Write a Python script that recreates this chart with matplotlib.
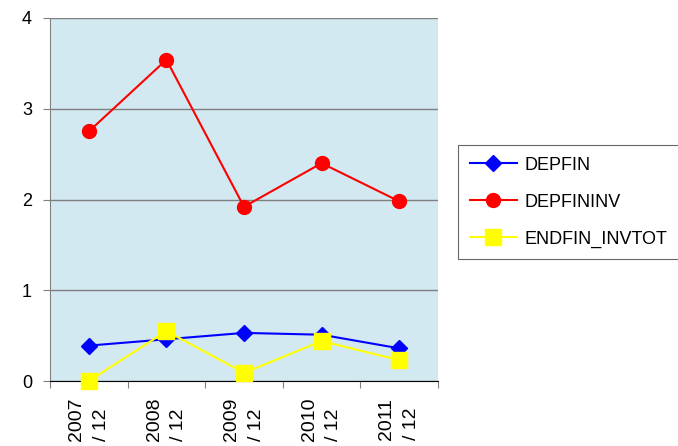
import matplotlib
matplotlib.use('Agg')
import matplotlib.pyplot as plt
import numpy as np

plt.rcParams['font.family'] = ['Liberation Sans', 'DejaVu Sans']

periods = ['2007\n/ 12', '2008\n/ 12', '2009\n/ 12', '2010\n/ 12', '2011\n/ 12']
depfin = [0.39, 0.46, 0.53, 0.51, 0.36]
depfininv = [2.75, 3.54, 1.92, 2.40, 1.98]
endfin_invtot = [0.00, 0.55, 0.09, 0.44, 0.23]

fig = plt.figure(figsize=(6.78, 4.46), dpi=100)
ax = fig.add_axes([50 / 678, 1 - 381 / 446, 388 / 678, 363 / 446])
ax.set_facecolor('#D3E9F1')

x = np.arange(len(periods))
ax.plot(x, depfin, color='#0000FF', marker='D', markersize=8, linewidth=1.5, label='DEPFIN', zorder=3)
ax.plot(x, depfininv, color='#FF0000', marker='o', markersize=10, linewidth=1.5, label='DEPFININV', zorder=3)
ax.plot(x, endfin_invtot, color='#FFFF00', marker='s', markersize=11, linewidth=1.5, label='ENDFIN_INVTOT', zorder=3, clip_on=False)

ax.set_xlim(-0.5, len(periods) - 0.5)
ax.set_ylim(0, 4)
ax.set_yticks([0, 1, 2, 3, 4])
ax.yaxis.grid(True, color='#808080', linewidth=1)
ax.set_axisbelow(True)

# category labels sit between the tick marks
ax.set_xticks(np.arange(len(periods) + 1) - 0.5)
ax.set_xticklabels([])
ax.set_xticks(x, minor=True)
ax.set_xticklabels(periods, minor=True, rotation=90, fontsize=14, ha='center', va='top',
                   multialignment='left', linespacing=1.6)
ax.tick_params(axis='x', which='minor', length=0, pad=12)
ax.tick_params(axis='x', which='major', length=5, color='#808080', direction='out')
ax.tick_params(axis='y', length=5, color='#808080', labelsize=13, pad=8)

for s in ['top', 'right']:
    ax.spines[s].set_visible(False)
ax.spines['left'].set_color('#808080')
ax.spines['bottom'].set_color('#000000')

leg = fig.legend(loc='upper left', bbox_to_anchor=(458 / 678, 1 - 145 / 446), fontsize=13,
                 frameon=True, fancybox=False, edgecolor='#404040', borderpad=0.65,
                 labelspacing=1.1, handlelength=2.6, handletextpad=0.45, borderaxespad=0)
leg.get_frame().set_linewidth(0.8)

fig.savefig('out.png', dpi=100)
